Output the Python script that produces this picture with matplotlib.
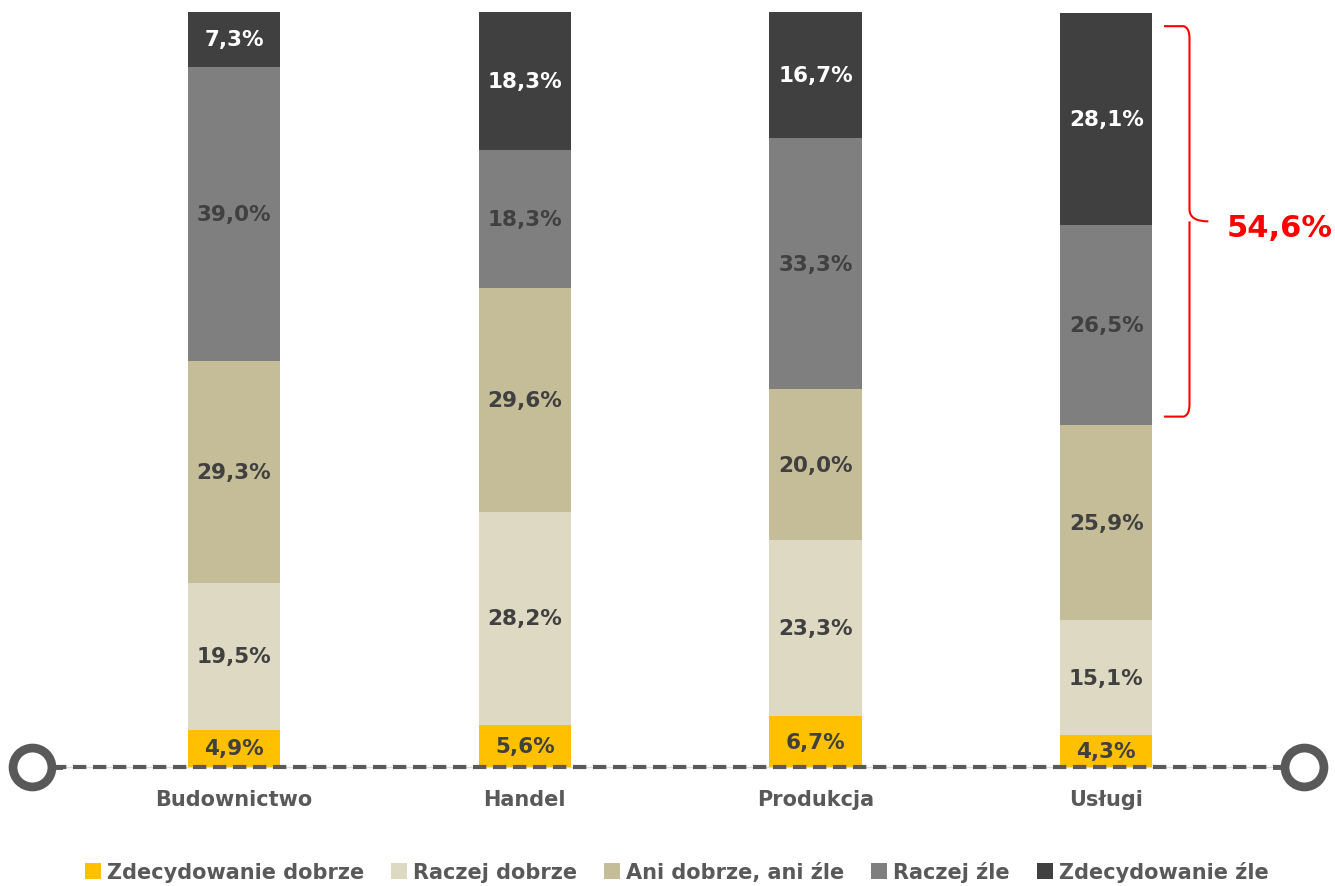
import numpy as np
import matplotlib.pyplot as plt
from matplotlib.path import Path
from matplotlib.patches import PathPatch, Patch
from matplotlib.transforms import blended_transform_factory

# -----------------------------
# Data
# -----------------------------
categories = ["Budownictwo", "Handel", "Produkcja", "Usługi"]
series_names = ["Zdecydowanie dobrze", "Raczej dobrze", "Ani dobrze, ani źle",
                "Raczej źle", "Zdecydowanie źle"]
zdec_dobrze = [4.9, 5.6, 6.7, 4.3]
raczej_dobrze = [19.5, 28.2, 23.3, 15.1]
ani_ani = [29.3, 29.6, 20.0, 25.9]
raczej_zle = [39.0, 18.3, 33.3, 26.5]
zdec_zle = [7.3, 18.3, 16.7, 28.1]

series_values = [zdec_dobrze, raczej_dobrze, ani_ani, raczej_zle, zdec_zle]
colors = ["#FFC000", "#DDD9C3", "#C4BD97", "#7F7F7F", "#404040"]
label_colors = ["#404040", "#404040", "#404040", "#404040", "#FFFFFF"]

FONT = ["DejaVu Sans"]
GREY = "#595959"

# -----------------------------
# Figure
# -----------------------------
fig = plt.figure(figsize=(13.35, 8.87), dpi=100)
ax = fig.add_axes([0, 0, 1, 1])
ax.axis("off")
ax.set_xlim(-0.805, 3.787)
ax.set_ylim(-15.76, 101.7)

x = np.arange(len(categories))
width = 0.317
bottom = np.zeros(len(categories))
for vals, col, tcol in zip(series_values, colors, label_colors):
    vals = np.array(vals)
    ax.bar(x, vals, width, bottom=bottom, color=col, edgecolor="none", zorder=2)
    for xi, b, v in zip(x, bottom, vals):
        ax.text(xi, b + v / 2, f"{v:.1f}%".replace(".", ","), ha="center", va="center",
                fontsize=15.5, fontweight="bold", color=tcol, family=FONT, zorder=4)
    bottom = bottom + vals

# category labels
for xi, cat in zip(x, categories):
    ax.text(xi, -4.3, cat, ha="center", va="center", fontsize=15, fontweight="bold",
            color=GREY, family=FONT)

# baseline with circles
trans = blended_transform_factory(ax.transAxes, ax.transData)
ax.plot([0.024, 0.977], [0, 0], transform=trans, color="#D9D9D9", lw=1, zorder=1)
ax.plot([0.04, 0.96], [0, 0], transform=trans, color=GREY, lw=3,
        dashes=(3.2, 1.6), zorder=3, solid_capstyle="butt")
ax.plot([0.024, 0.045], [0, 0], transform=trans, color=GREY, lw=3.5, zorder=3)
ax.plot([0.955, 0.977], [0, 0], transform=trans, color=GREY, lw=3.5, zorder=3)
ax.plot([0.024, 0.977], [0, 0], transform=trans, ls="none", marker="o", ms=28,
        mfc="white", mec=GREY, mew=6.3, zorder=5)

# red bracket over the two negative segments of the last bar
lo = sum(v[-1] for v in series_values[:3]) + 1.1
hi = 100 - 1.9
mid = (lo + hi) / 2
s = sum(v[-1] for v in series_values[3:])
xb = x[-1] + width / 2
x0, x1, x2 = xb + 0.04, xb + 0.118, xb + 0.193
r = 1.6
verts = [(x0, hi), (x1 - 0.01, hi), (x1 + 0.01, hi - 0.2), (x1 + 0.01, hi - r),
         (x1 + 0.01, mid + r), (x1 + 0.01, mid), (x2, mid),
         (x1 + 0.01, mid), (x1 + 0.01, mid - r),
         (x1 + 0.01, lo + r), (x1 + 0.01, lo + 0.2), (x1 - 0.01, lo), (x0, lo)]
codes = [Path.MOVETO, Path.LINETO, Path.CURVE3, Path.CURVE3,
         Path.LINETO, Path.CURVE3, Path.CURVE3,
         Path.MOVETO, Path.CURVE3,
         Path.LINETO, Path.CURVE3, Path.CURVE3, Path.LINETO]
ax.add_patch(PathPatch(Path(verts, codes), fill=False, edgecolor="#FF0000", lw=1.5, zorder=3))
ax.text(0.9985, mid - 0.8, f"{s:.1f}%".replace(".", ","), ha="right", va="center",
        transform=trans, fontsize=22, fontweight="bold", color="#FF0000", family=FONT)

# legend
handles = [Patch(facecolor=c, edgecolor="none") for c in colors]
leg = fig.legend(handles, series_names, ncol=5, loc="center", bbox_to_anchor=(0.507, 0.016),
                 frameon=False, handlelength=0.75, handleheight=0.75, handletextpad=0.3,
                 columnspacing=1.3, prop={"family": FONT, "size": 15, "weight": "bold"})
for t in leg.get_texts():
    t.set_color(GREY)

fig.savefig("out.png", dpi=100)
